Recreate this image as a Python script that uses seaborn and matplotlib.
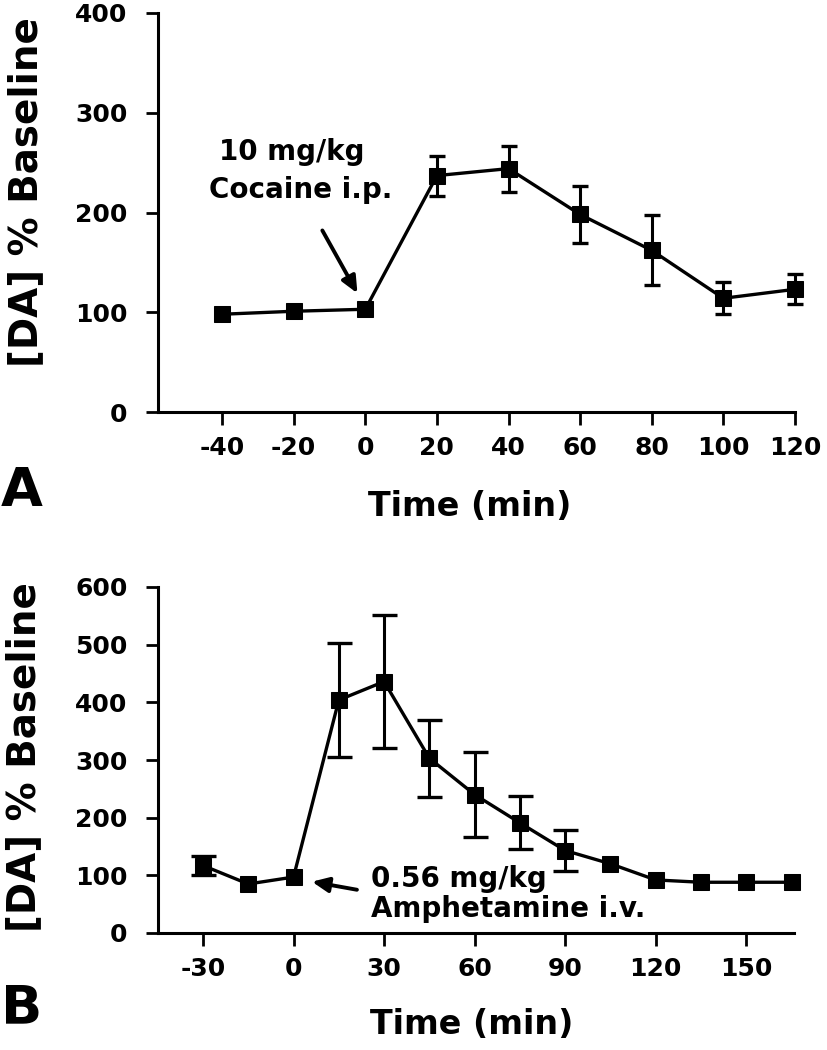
import matplotlib
matplotlib.use("Agg")
import matplotlib.pyplot as plt
import numpy as np
import pandas as pd
import seaborn as sns

# panel A: cocaine i.p.
time_a = [-40, -20, 0, 20, 40, 60, 80, 100, 120]
da_a = [98, 101, 103, 237, 244, 198, 162, 114, 123]
sem_a = [0, 0, 0, 20, 23, 29, 35, 16, 15]

# panel B: amphetamine i.v.
time_b = [-30, -15, 0, 15, 30, 45, 60, 75, 90, 105, 120, 135, 150, 165]
da_b = [117, 85, 97, 404, 436, 303, 240, 191, 143, 120, 92, 88, 88, 88]
sem_b = [17, 0, 0, 99, 115, 67, 74, 46, 36, 0, 0, 0, 0, 0]

xticks_a = [-40, -20, 0, 20, 40, 60, 80, 100, 120]
yticks_a = [0, 100, 200, 300, 400]
xticks_b = [-30, 0, 30, 60, 90, 120, 150]
yticks_b = [0, 100, 200, 300, 400, 500, 600]

sns.set_style("ticks")
plt.rcParams["font.family"] = ["DejaVu Sans"]
plt.rcParams["font.weight"] = "bold"
for k in ["text.color", "axes.labelcolor", "xtick.color", "ytick.color", "axes.edgecolor"]:
    plt.rcParams[k] = "black"

W, H = 828, 1050
fig = plt.figure(figsize=(W / 100, H / 100), dpi=100)


def px_axes(left, top, right, bottom):
    return fig.add_axes([left / W, 1 - bottom / H, (right - left) / W, (bottom - top) / H])


def draw_panel(ax, t, y, err, capsize):
    df = pd.DataFrame({"time": t, "da": y})
    sns.lineplot(data=df, x="time", y="da", ax=ax, color="black", lw=2.4,
                 marker="s", markersize=12, markeredgecolor="black",
                 clip_on=False, zorder=3)
    mask = np.array(err) > 0
    ax.errorbar(np.array(t)[mask], np.array(y)[mask], yerr=np.array(err)[mask],
                fmt="none", ecolor="black", elinewidth=2.2, capsize=capsize,
                capthick=2.4, clip_on=False, zorder=2)
    for s in ["top", "right"]:
        ax.spines[s].set_visible(False)
    for s in ["left", "bottom"]:
        ax.spines[s].set_linewidth(2.2)
        ax.spines[s].set_color("black")
    ax.tick_params(axis="both", width=2.0, length=9, labelsize=18, direction="out",
                   colors="black")
    ax.tick_params(axis="y", pad=13)
    ax.tick_params(axis="x", pad=8)
    ax.set_xlabel("")
    ax.set_ylabel("")


arrow_kw = dict(arrowstyle="-|>,head_length=1.0,head_width=0.45", lw=2.8,
                color="black", shrinkA=0, shrinkB=0)

# ---- panel A
ax_a = px_axes(158, 13, 795, 412)
draw_panel(ax_a, time_a, da_a, sem_a, capsize=6)
ax_a.set_xlim(-57.9, 120)
ax_a.set_ylim(0, 400)
ax_a.set_xticks(xticks_a)
ax_a.set_yticks(yticks_a)
ax_a.set_xticklabels([str(v) for v in xticks_a], fontweight="bold")
ax_a.set_yticklabels([str(v) for v in yticks_a], fontweight="bold")
ax_a.text(-20.5, 253, "10 mg/kg", ha="center", va="baseline", fontsize=20, fontweight="bold")
ax_a.text(-18, 215, "Cocaine i.p.", ha="center", va="baseline", fontsize=20, fontweight="bold")
ax_a.annotate("", xy=(-2.2, 119), xytext=(-12, 182), arrowprops=arrow_kw)

# ---- panel B
ax_b = px_axes(158, 587, 794, 933)
draw_panel(ax_b, time_b, da_b, sem_b, capsize=9)
ax_b.set_xlim(-44.9, 165.8)
ax_b.set_ylim(0, 600)
ax_b.set_xticks(xticks_b)
ax_b.set_yticks(yticks_b)
ax_b.set_xticklabels([str(v) for v in xticks_b], fontweight="bold")
ax_b.set_yticklabels([str(v) for v in yticks_b], fontweight="bold")
ax_b.text(25.7, 80, "0.56 mg/kg", ha="left", va="baseline", fontsize=20, fontweight="bold")
ax_b.text(25.7, 27, "Amphetamine i.v.", ha="left", va="baseline", fontsize=20, fontweight="bold")
ax_b.annotate("", xy=(6.1, 89), xytext=(21, 75), arrowprops=arrow_kw)

# labels
fig.text(26 / W, 1 - 192 / H, "[DA] % Baseline", rotation=90, ha="center", va="center",
         fontsize=28, fontweight="bold")
fig.text(24 / W, 1 - 757 / H, "[DA] % Baseline", rotation=90, ha="center", va="center",
         fontsize=28, fontweight="bold")
fig.text(470 / W, 1 - 507 / H, "Time (min)", ha="center", va="center", fontsize=24, fontweight="bold")
fig.text(472 / W, 1 - 1024 / H, "Time (min)", ha="center", va="center", fontsize=24, fontweight="bold")
fig.text(1 / W, 1 - 491 / H, "A", ha="left", va="center", fontsize=39, fontweight="bold")
fig.text(1 / W, 1 - 1008 / H, "B", ha="left", va="center", fontsize=39, fontweight="bold")

fig.savefig("out.png", dpi=100)
